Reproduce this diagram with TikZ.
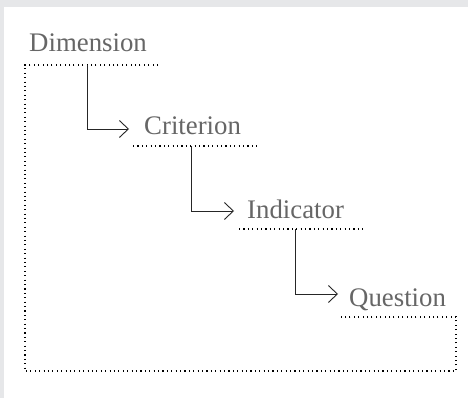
\documentclass[tikz,border=0pt]{standalone}
\usepackage{fontspec}
\setmainfont{Liberation Serif}
\usetikzlibrary{arrows.meta}
\definecolor{bgray}{HTML}{E6E7E9}
\definecolor{txtgray}{HTML}{666666}
\begin{document}
\begin{tikzpicture}[x=1pt,y=-1pt,
  label/.style={anchor=base west,inner sep=0pt,text=txtgray,font=\fontsize{26.8}{30}\selectfont},
  dotline/.style={line width=1.1pt,dash pattern=on 1.1pt off 3.3pt,black},
  flow/.style={line width=0.9pt,draw=black!85,-{Straight Barb[length=9pt,width=17pt,line width=0.9pt]}}]
\useasboundingbox (0,0) rectangle (468,398);
\fill[bgray] (-2,-2) rectangle (470,400);
\fill[white] (4,7) rectangle (472,402);
% labels
\node[label] (dim) at (29,52) {Dimension};
\node[label] (crit) at (144,135) {Criterion};
\node[label] (ind) at (247,218) {Indicator};
\node[label] (que) at (349,306) {Question};
% frame coordinates
\coordinate (dL) at (25,65);
\coordinate (dR) at (158,65);
\coordinate (cL) at (133,146);
\coordinate (cR) at (260,146);
\coordinate (iL) at (239,229);
\coordinate (iR) at (363,229);
\coordinate (qL) at (340,317);
\coordinate (qR) at (456,317);
\coordinate (bL) at (25,371);
\coordinate (bR) at (456,371);
% dotted lines
\draw[dotline] (dR) -- (dL) -- (bL) -- (bR) -- (qR) -- (qL);
\draw[dotline] (cL) -- (cR);
\draw[dotline] (iL) -- (iR);
% arrow coordinates
\coordinate (a1s) at (87,65);
\coordinate (a1e) at (129,129);
\coordinate (a2s) at (191,146);
\coordinate (a2e) at (234,211);
\coordinate (a3s) at (295,229);
\coordinate (a3e) at (338,294);
\draw[flow] (a1s) |- (a1e);
\draw[flow] (a2s) |- (a2e);
\draw[flow] (a3s) |- (a3e);
\end{tikzpicture}
\end{document}
